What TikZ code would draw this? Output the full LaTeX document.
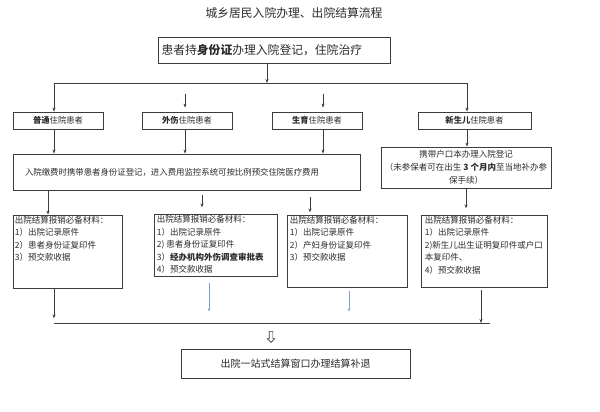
\documentclass[tikz,border=0pt]{standalone}
\usepackage{fontspec}
\setmainfont{Noto Sans CJK SC}
\usetikzlibrary{arrows.meta,shapes.arrows}
\definecolor{lineg}{HTML}{3C3C3C}
\definecolor{txtg}{HTML}{2B2B2B}
\definecolor{pale}{HTML}{7F9FCB}
\tikzset{
  box/.style={draw=lineg,line width=0.8pt,inner sep=0pt,text=txtg},
  link/.style={draw=lineg,line width=0.7pt},
  tip/.style={link,-{Stealth[length=4pt,width=3pt]}},
  faint/.style={draw=pale,line width=0.6pt,-{Stealth[length=3pt,width=2.4pt]}},
  mat/.style={anchor=north west,inner sep=0pt,align=left,text=txtg,font=\fontsize{8.5}{12.6}\selectfont},
  kind/.style={box,minimum width=90,minimum height=17,font=\fontsize{8.3}{10}\selectfont}
}
\begin{document}
\begin{tikzpicture}[x=1pt,y=-1pt]
  \useasboundingbox[fill=white] (0,0) rectangle (600,412);
  % columns of the arrows
  \coordinate (c1) at (54,0);  \coordinate (c2) at (185,0);
  \coordinate (c3) at (323,0); \coordinate (c4) at (467,0);
  \coordinate (c5) at (481,0); \coordinate (c6) at (209,0);
  \coordinate (c7) at (349,0);
  \coordinate (d1) at (48,0);  \coordinate (d2) at (202,0);
  \coordinate (d3) at (310,0);

  \node[text=txtg,font=\fontsize{11.8}{14}\selectfont] (title) at (294,13) {城乡居民入院办理、出院结算流程};
  \node[box,minimum width=232,minimum height=26,text width=225,align=left,font=\fontsize{11.8}{14}\selectfont] (reg) at (274,50) {患者持\textbf{身份证}办理入院登记，住院治疗};

  \node[kind] (common) at (58,120.5) {\textbf{普通}住院患者};
  \node[kind] (injury) at (187,120.5) {\textbf{外伤}住院患者};
  \node[kind] (birth) at (317,120.5) {\textbf{生育}住院患者};
  \node[kind,minimum width=113] (baby) at (474.5,120.5) {\textbf{新生儿}住院患者};

  \node[box,minimum width=347,minimum height=36,text width=323,align=left,font=\fontsize{8.4}{10}\selectfont] (deposit) at (186.5,172) {入院缴费时携带患者身份证登记，进入费用监控系统可按比例预交住院医疗费用};
  \node[box,minimum width=170,minimum height=41,align=center,font=\fontsize{8.5}{13}\selectfont] (babyreg) at (466,167.5) {携带户口本办理入院登记\\（未参保者可在出生 \textbf{3 个月内}至当地补办参\\保手续）};

  \node[box,minimum width=109,minimum height=73] (m1) at (67.5,251.5) {};
  \node[box,minimum width=123,minimum height=62] (m2) at (215.5,245) {};
  \node[box,minimum width=120,minimum height=72] (m3) at (347,251) {};
  \node[box,minimum width=126,minimum height=72] (m4) at (484,251) {};
  \node[mat] (m1t) at ([shift={(2,1)}]m1.north west) {出院结算报销必备材料：\\1）出院记录原件\\2）患者身份证复印件\\3）预交款收据};
  \node[mat] (m2t) at ([shift={(3,1.5)}]m2.north west) {出院结算报销必备材料：\\1）出院记录原件\\2) 患者身份证复印件\\3）\textbf{经办机构外伤调查审批表}\\4）预交款收据};
  \node[mat] (m3t) at ([shift={(3,1)}]m3.north west) {出院结算报销必备材料：\\1）出院记录原件\\2）产妇身份证复印件\\3）预交款收据};
  \node[mat] (m4t) at ([shift={(4,1)}]m4.north west) {出院结算报销必备材料：\\1）出院记录原件\\2)新生儿出生证明复印件或户口\\本复印件、\\4）预交款收据};

  \node[box,minimum width=229,minimum height=29,font=\fontsize{10}{12}\selectfont] (settle) at (295.5,363.5) {出院一站式结算窗口办理结算补退};
  \node[single arrow,draw=lineg,line width=0.6pt,shape border rotate=270,minimum height=11,inner sep=1.5pt,single arrow head extend=2pt] (merge) at (271,336) {};

  % top split
  \coordinate (split) at (267,83);
  \draw[tip] (reg.south -| split) -- (split);
  \draw[link] (split -| c1) -- (split -| c4);
  \draw[tip] (split -| c1) -- (common.north -| c1);
  \draw[tip] (split -| c4) -- (baby.north -| c4);
  \draw[tip] ([yshift=18pt]injury.north -| c2) -- ([yshift=4pt]injury.north -| c2);
  \draw[tip] ([yshift=18pt]birth.north -| c3) -- ([yshift=4pt]birth.north -| c3);

  % into the deposit boxes
  \draw[tip] (common.south -| c1) -- (deposit.north -| c1);
  \draw[tip] (injury.south -| c2) -- (deposit.north -| c2);
  \draw[tip] (birth.south -| c3) -- (deposit.north -| c3);
  \draw[tip] (baby.south -| c4) -- (babyreg.north -| c4);

  % into the material boxes
  \draw[tip] (deposit.south -| d1) -- (m1.north -| d1);
  \draw[tip] (deposit.south -| d2) ++(0,5) -- ++(0,12);
  \draw[tip] (deposit.south -| d3) ++(0,7) -- ++(0,15);
  \draw[tip] (babyreg.south) -- ++(0,20);

  % down to the settlement line
  \coordinate (bl) at (54,323);
  \coordinate (br) at (490,323);
  \draw[link] (bl) -- (br);
  \draw[tip] (m1.south -| c1) -- ++(0,30);
  \draw[tip] (m4.south -| c5) ++(0,3) -- (br -| c5);
  \draw[faint] (m2.south -| c6) ++(0,7) -- ++(0,28);
  \draw[faint] (m3.south -| c7) ++(0,4) -- ++(0,20);
\end{tikzpicture}
\end{document}
